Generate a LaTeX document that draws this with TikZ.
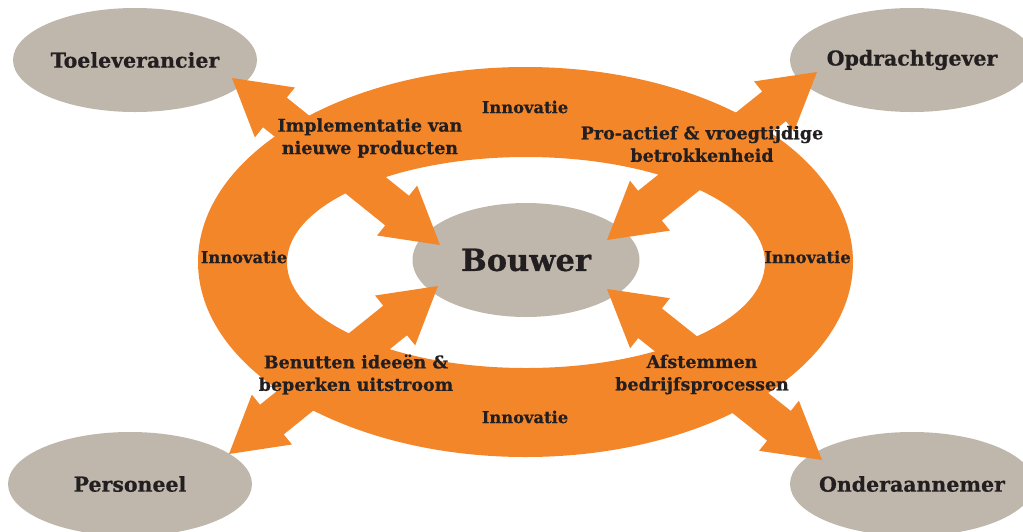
\documentclass[tikz,border=0pt]{standalone}
\usepackage{fontspec}
\setmainfont{DejaVu Serif}
\newfontfamily\heavy{DejaVu Serif Bold}[FakeBold=0.6]
\usetikzlibrary{shapes.geometric,calc}
\definecolor{orng}{HTML}{F4862A}
\definecolor{greyb}{HTML}{BFB7AC}
\definecolor{txt}{HTML}{231F20}
\newcommand\blockarrow[2]{%
  \fill[orng] (#1)
  -- ($ ($(#1)!55pt!(#2)$)!32pt!90:(#2) $)
  -- ($ ($(#1)!55pt!(#2)$)!19pt!90:(#2) $)
  -- ($ ($(#2)!55pt!(#1)$)!19pt!-90:(#1) $)
  -- ($ ($(#2)!55pt!(#1)$)!32pt!-90:(#1) $)
  -- (#2)
  -- ($ ($(#2)!55pt!(#1)$)!32pt!90:(#1) $)
  -- ($ ($(#2)!55pt!(#1)$)!19pt!90:(#1) $)
  -- ($ ($(#1)!55pt!(#2)$)!19pt!-90:(#2) $)
  -- ($ ($(#1)!55pt!(#2)$)!32pt!-90:(#2) $)
  -- cycle;}
\newcommand\zw[1]{\makebox[0pt][c]{#1}}
\begin{document}
\begin{tikzpicture}[x=1pt,y=-1pt,
  party/.style={ellipse, fill=greyb, minimum width=244pt, minimum height=104pt,
    inner sep=0pt, text=txt, font=\fontsize{20.5}{24}\heavy},
  lbl/.style={text=txt, align=center, inner sep=0pt,
    font=\fontsize{17.5}{22.5}\heavy},
  innov/.style={text=txt, inner sep=0pt, font=\fontsize{16.3}{18}\heavy}]
\useasboundingbox (0,0) rectangle (1023,531);
% ring
\fill[orng, even odd rule] (525.5,262) ellipse [x radius=327.5pt, y radius=195pt]
  (526,262.5) ellipse [x radius=239pt, y radius=105.5pt];
% parties
\node[party] (toe) at (135,60) {\zw{Toeleverancier}};
\node[party] (opd) at (912,60) {\zw{Opdrachtgever}};
\node[party] (per) at (130,484) {\zw{Personeel}};
\node[party] (ond) at (912,484) {\zw{Onderaannemer}};
\node[party, minimum width=227pt, minimum height=114pt,
  font=\fontsize{30.5}{36}\heavy] (bouwer) at (526,260) {\zw{Bouwer}};
% arrow ends
\coordinate (t1) at (232,78);  \coordinate (b1) at (440,245);
\coordinate (t2) at (817,72);  \coordinate (b2) at (607,240);
\coordinate (t3) at (229,454); \coordinate (b3) at (438,286);
\coordinate (t4) at (822,460); \coordinate (b4) at (607,289);
\blockarrow{t1}{b1}
\blockarrow{t2}{b2}
\blockarrow{t3}{b3}
\blockarrow{t4}{b4}
% labels
\node[lbl] (l1) at (370,138) {Implementatie van\\nieuwe producten};
\node[lbl] (l2) at (702,144) {Pro-actief \& vroegtijdige\\betrokkenheid};
\node[lbl] (l3) at (356,374.5) {Benutten idee\"en \&\\beperken uitstroom};
\node[lbl] (l4) at (702,374.5) {Afstemmen\\bedrijfsprocessen};
\node[innov] (i1) at (525,107) {Innovatie};
\node[innov] (i2) at (244,257) {Innovatie};
\node[innov] (i3) at (807.5,257) {Innovatie};
\node[innov] (i4) at (525,417) {Innovatie};
\end{tikzpicture}
\end{document}
